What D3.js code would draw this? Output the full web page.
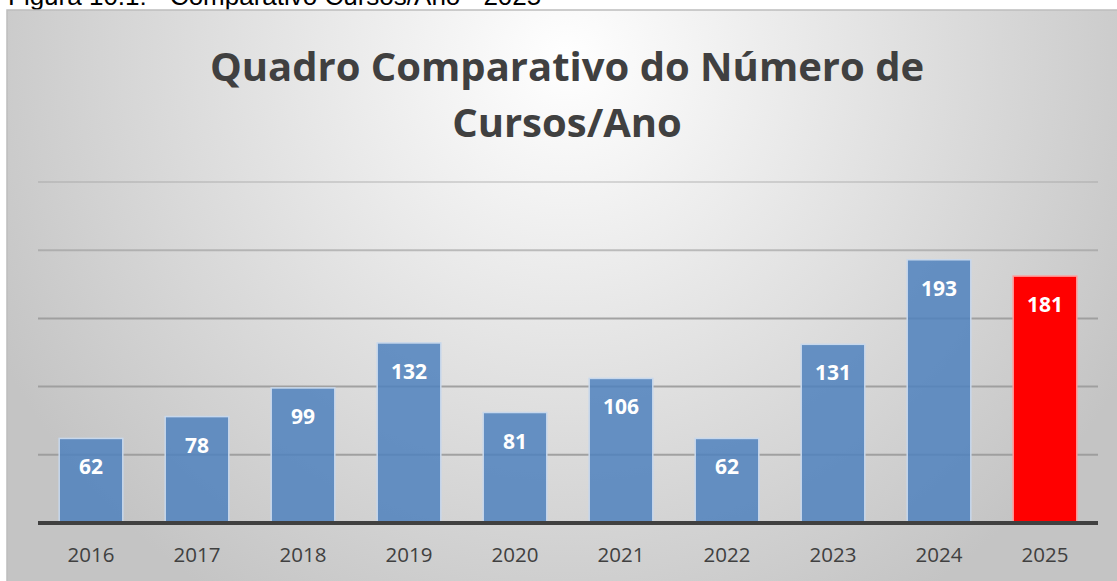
<!DOCTYPE html>
<head>
    <meta charset="utf-8">
    <script src="https://d3js.org/d3.v7.min.js"></script>
    <style>
        body { margin: 0; background: #fff; overflow: hidden; }
    </style>
</head>
<body>
    <svg width="1117" height="581"></svg>
    <script>
        // data
        const years = ["2016", "2017", "2018", "2019", "2020", "2021", "2022", "2023", "2024", "2025"]
        const cursos = [62, 78, 99, 132, 81, 106, 62, 131, 193, 181]
        const gridTicks = [0, 50, 100, 150, 200, 250]
        const titleLines = ["Quadro Comparativo do Número de", "Cursos/Ano"]
        const caption = "Figura 10.1: - Comparativo Cursos/Ano - 2025"

        const svg = d3.select("svg")
        const left = 38, right = 1098

        // caption above the chart (its top is cut by the page edge, as in the source)
        svg.append("text")
            .attr("x", 8).attr("y", 5)
            .attr("font-family", "Liberation Sans, Arial")
            .attr("font-size", 26)
            .attr("fill", "#000")
            .text(caption)

        // background gradient of the chart area
        const defs = svg.append("defs")
        const grad = defs.append("radialGradient")
            .attr("id", "bg")
            .attr("gradientUnits", "userSpaceOnUse")
            .attr("cx", 567).attr("cy", 60).attr("r", 640)
        grad.append("stop").attr("offset", "0%").attr("stop-color", "#ffffff")
        grad.append("stop").attr("offset", "100%").attr("stop-color", "#c4c4c4")

        svg.append("rect")
            .attr("x", 7).attr("y", 10)
            .attr("width", 1130).attr("height", 600)
            .attr("fill", "url(#bg)")
            .attr("stroke", "#bdbdbd")
            .attr("stroke-width", 1.5)

        // title
        svg.selectAll("text.title")
            .data(titleLines)
            .enter()
            .append("text")
            .attr("class", "title")
            .attr("x", 567)
            .attr("y", (d, i) => 81 + i * 56)
            .attr("text-anchor", "middle")
            .attr("font-family", "Open Sans")
            .attr("font-weight", "bold")
            .attr("font-size", 40)
            .attr("fill", "#404040")
            .text(d => d)

        const x = d3.scaleBand()
            .domain(years)
            .range([left, right])
            .paddingInner(0.4)
            .paddingOuter(0.2)

        const y = d3.scaleLinear()
            .domain([0, 250])
            .range([523, 182])

        // gridlines
        svg.selectAll("line.grid")
            .data(gridTicks.filter(d => d > 0))
            .enter()
            .append("line")
            .attr("x1", left).attr("x2", right)
            .attr("y1", d => y(d)).attr("y2", d => y(d))
            .attr("stroke", "#9a9a9a")
            .attr("stroke-opacity", d => d >= 250 ? 0.35 : d >= 200 ? 0.6 : 0.9)
            .attr("stroke-width", 2)

        // bars
        svg.selectAll("rect.bar")
            .data(cursos)
            .enter()
            .append("rect")
            .attr("x", (d, i) => x(years[i]))
            .attr("y", d => y(d))
            .attr("width", x.bandwidth())
            .attr("height", d => y(0) - y(d))
            .attr("fill", (d, i) => i === years.length - 1 ? "#ff0000" : "#4f81bd")
            .attr("fill-opacity", (d, i) => i === years.length - 1 ? 1 : 0.85)
            .attr("stroke", (d, i) => i === years.length - 1 ? "#ff9a9a" : "#c8d8ec")
            .attr("stroke-width", 1.5)

        // value labels
        svg.selectAll("text.val")
            .data(cursos)
            .enter()
            .append("text")
            .attr("x", (d, i) => x(years[i]) + x.bandwidth() / 2)
            .attr("y", d => y(d) + 36)
            .attr("text-anchor", "middle")
            .attr("font-family", "Open Sans")
            .attr("font-weight", "bold")
            .attr("font-size", 21)
            .attr("fill", "#fff")
            .text(d => d)

        // x axis
        const xAxis = svg.append("g")
            .attr("transform", `translate(0, ${y(0)})`)
            .call(d3.axisBottom(x).tickSize(0).tickPadding(24))
        xAxis.select(".domain")
            .attr("stroke", "#404040")
            .attr("stroke-width", 4)
            .attr("d", `M${left},0H${right}`)
        xAxis.selectAll("text")
            .attr("font-family", "Open Sans")
            .attr("font-size", 20.5)
            .attr("fill", "#404040")
    </script>
</body>
